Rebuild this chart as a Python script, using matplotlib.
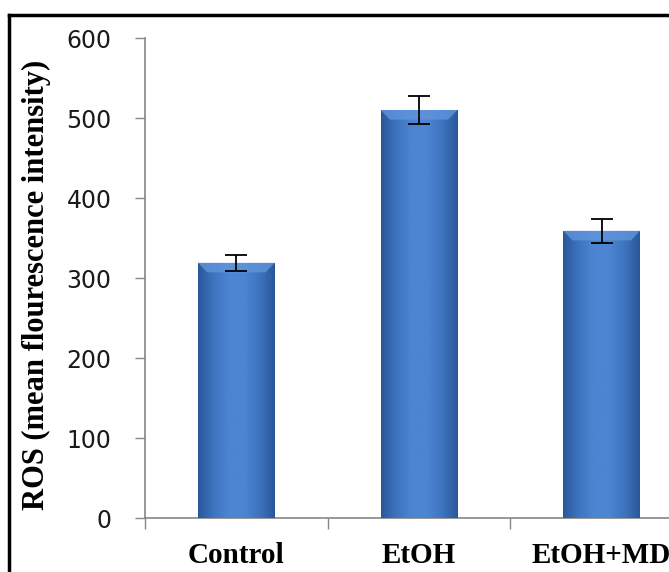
import numpy as np
import matplotlib.pyplot as plt
from matplotlib.lines import Line2D
from matplotlib.colors import LinearSegmentedColormap

groups = ["Control", "EtOH", "EtOH+MD"]
ros_mean = [319, 510, 359]
ros_err = [10, 17, 15]
y_ticks = [0, 100, 200, 300, 400, 500, 600]

fig = plt.figure(figsize=(6.69, 5.72), dpi=100)
fig.patch.set_facecolor("white")

# axes runs past the right edge, as in the cropped original
W, H = 669, 572
left, right, bottom, top = 145, 693, 518, 38
ax = fig.add_axes([left / W, 1 - bottom / H, (right - left) / W, (bottom - top) / H])

x = np.arange(len(groups)) + 0.5
bars = ax.bar(x, ros_mean, width=0.42, color="#3E72BC", edgecolor="none", zorder=2)

# bevelled blue gradient on each bar
grad = LinearSegmentedColormap.from_list(
    "bev", ["#2A579A", "#3E74C0", "#4C85D2", "#4C85D2", "#3E74C0", "#2A579A"])
g = np.linspace(0, 1, 200).reshape(1, -1)
for b in bars:
    x0, w, h = b.get_x(), b.get_width(), b.get_height()
    im = ax.imshow(g, cmap=grad, aspect="auto", extent=[x0, x0 + w, 0, h], zorder=3)
    im.set_clip_path(b)
    # lighter top bevel
    ax.fill([x0, x0 + w, x0 + w * 0.88, x0 + w * 0.12],
            [h, h, h - 12, h - 12], color="#5F95DC", lw=0, zorder=4, alpha=0.8)

ax.errorbar(x, ros_mean, yerr=ros_err, fmt="none", ecolor="black",
            elinewidth=1.3, capsize=8, capthick=1.3, zorder=5)

ax.set_xlim(0, 3)
ax.set_ylim(0, 600)
ax.set_yticks(y_ticks)
ax.set_yticklabels([str(v) for v in y_ticks], fontsize=17, color="#1a1a1a",
                   family="DejaVu Sans")
ax.tick_params(axis="y", length=7, width=1, color="#868686", pad=17)

ax.set_xticks([0, 1, 2, 3])
ax.set_xticklabels([])
ax.tick_params(axis="x", which="major", length=8, width=1, color="#868686")
ax.set_xticks(x, minor=True)
ax.set_xticklabels(groups, minor=True, fontsize=21, fontweight="bold",
                   family="Liberation Serif")
ax.tick_params(axis="x", which="minor", length=0, pad=17)

for s in ["top", "right"]:
    ax.spines[s].set_visible(False)
for s in ["left", "bottom"]:
    ax.spines[s].set_color("#868686")
    ax.spines[s].set_linewidth(1.2)

fig.text(36 / W, 1 - 285 / H, "ROS (mean flourescence intensity)", rotation=90,
         ha="center", va="center", fontsize=22, fontweight="bold",
         family="Liberation Serif")

# outer frame (left and top edges visible)
fig.add_artist(Line2D([9 / W, 9 / W], [0, 1 - 15 / H], color="black", lw=2.5,
                      transform=fig.transFigure))
fig.add_artist(Line2D([9 / W, 1], [1 - 15 / H, 1 - 15 / H], color="black", lw=2.5,
                      transform=fig.transFigure))

fig.savefig("out.png", dpi=100)
